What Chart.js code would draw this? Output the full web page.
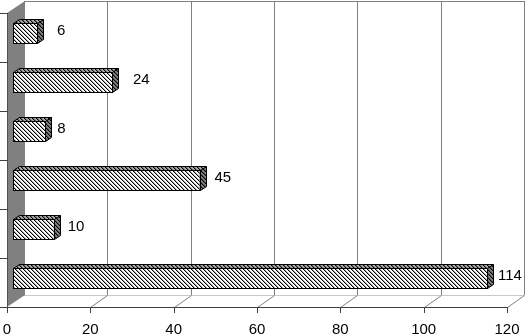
<!DOCTYPE html>
<html><head><meta charset="utf-8">
<script src="https://cdn.jsdelivr.net/npm/chart.js@4.4.1/dist/chart.umd.min.js"></script>
<style>html,body{margin:0;padding:0;background:#fff;overflow:hidden}#wrap{width:525px;height:335px;position:relative}</style>
</head><body><div id="wrap"><canvas id="c" width="525" height="335"></canvas></div>
<script>
// ---- data ----
const categories = ['1', '2', '3', '4', '5', '6'];
const values = [6, 24, 8, 45, 10, 114];
const xTickValues = [0, 20, 40, 60, 80, 100, 120];
const xTickLabels = ['0', '20', '40', '60', '80', '100', '120'];

// ---- style / geometry ----
const labelGap = [25, 26, 17, 20, 19, 16];
const WALL_DX = 17, WALL_DY = -12;   // back plane offset
const BAR_OX = 6, BAR_OY = -4;       // bar front face offset
const BAR_DX = 6, BAR_DY = -4;       // bar depth
const FONT = '15px "Liberation Sans", Arial, sans-serif';

function makePattern(bg, fg) {
  const c = document.createElement('canvas');
  c.width = 4; c.height = 4;
  const g = c.getContext('2d');
  g.fillStyle = bg; g.fillRect(0, 0, 4, 4);
  for (let yy = 0; yy < 4; yy++) for (let xx = 0; xx < 4; xx++) {
    const d = ((xx - yy) % 4 + 4) % 4;
    if (d === 0) { g.fillStyle = fg; g.fillRect(xx, yy, 1, 1); }
    else if (d === 1) { g.fillStyle = 'rgba(0,0,0,0.35)'; g.fillRect(xx, yy, 1, 1); }
  }
  return g.createPattern(c, 'repeat');
}
const ctx0 = document.getElementById('c').getContext('2d');
const frontPat = makePattern('#ffffff', '#000000');
const topPat = makePattern('#a8a8a8', '#000000');
const sidePat = makePattern('#808080', '#000000');

function seg(ctx, x1, y1, x2, y2) { ctx.beginPath(); ctx.moveTo(x1, y1); ctx.lineTo(x2, y2); ctx.stroke(); }

const frame3d = {
  id: 'frame3d',
  beforeDatasetsDraw(chart) {
    const { ctx, chartArea: a, scales: { x, y } } = chart;
    ctx.save();
    ctx.lineWidth = 1;
    const L = a.left, R = a.right, T = a.top, B = a.bottom;
    // back plane grid
    ctx.strokeStyle = '#808080';
    xTickValues.forEach(v => {
      if (v === 0) return;
      const px = Math.round(x.getPixelForValue(v)) + WALL_DX + 0.5;
      seg(ctx, px, T + WALL_DY, px, B + WALL_DY);
    });
    seg(ctx, L + WALL_DX, T + WALL_DY + 0.5, R + WALL_DX + 1, T + WALL_DY + 0.5);
    // back floor edge
    ctx.strokeStyle = '#c8c8c8';
    seg(ctx, L + WALL_DX, B + WALL_DY + 0.5, R + WALL_DX, B + WALL_DY + 0.5);
    // floor diagonals
    ctx.strokeStyle = '#808080';
    xTickValues.forEach(v => {
      if (v === 0) return;
      const px = Math.round(x.getPixelForValue(v)) + 0.5;
      seg(ctx, px, B + 0.5, px + WALL_DX, B + WALL_DY + 0.5);
    });
    // gray side wall
    ctx.fillStyle = '#808080';
    ctx.beginPath();
    ctx.moveTo(L, T); ctx.lineTo(L + WALL_DX + 1, T + WALL_DY);
    ctx.lineTo(L + WALL_DX + 1, B + WALL_DY); ctx.lineTo(L, B);
    ctx.closePath(); ctx.fill();
    ctx.strokeStyle = '#505050';
    seg(ctx, L + 0.5, T, L + 0.5, B + 1);
    // front axis line and ticks
    ctx.strokeStyle = '#404040';
    seg(ctx, L, B + 0.5, R + 1, B + 0.5);
    xTickValues.forEach(v => {
      const px = Math.round(x.getPixelForValue(v)) + 0.5;
      seg(ctx, px, B, px, B + 6);
    });
    // category tick marks on the left
    const n = categories.length;
    for (let i = 0; i <= n; i++) {
      const py = Math.round(T + (B - T) * i / n) + 0.5;
      seg(ctx, 0, py, L + 1, py);
    }
    // tick labels
    ctx.fillStyle = '#000';
    ctx.font = FONT;
    ctx.textAlign = 'center';
    ctx.textBaseline = 'alphabetic';
    xTickValues.forEach((v, i) => {
      ctx.fillText(xTickLabels[i], x.getPixelForValue(v), B + 27);
    });
    ctx.restore();
    ctx.save();
    ctx.translate(BAR_OX, BAR_OY);
  },
  afterDatasetsDraw(chart) {
    const { ctx } = chart;
    const meta = chart.getDatasetMeta(0);
    ctx.lineWidth = 1;
    ctx.strokeStyle = '#000';
    meta.data.forEach(el => {
      const p = el.getProps(['x', 'y', 'base', 'height'], true);
      const top = Math.round(p.y - p.height / 2) + 0.5;
      const bot = Math.round(p.y + p.height / 2) - 0.5;
      const vx = Math.round(p.x) - 0.5;
      const bs = Math.round(p.base) + 0.5;
      // top face
      ctx.beginPath();
      ctx.moveTo(bs, top); ctx.lineTo(vx, top);
      ctx.lineTo(vx + BAR_DX, top + BAR_DY); ctx.lineTo(bs + BAR_DX, top + BAR_DY);
      ctx.closePath();
      ctx.fillStyle = topPat; ctx.fill(); ctx.stroke();
      // right face
      ctx.beginPath();
      ctx.moveTo(vx, top); ctx.lineTo(vx + BAR_DX, top + BAR_DY);
      ctx.lineTo(vx + BAR_DX, bot + BAR_DY); ctx.lineTo(vx, bot);
      ctx.closePath();
      ctx.fillStyle = sidePat; ctx.fill(); ctx.stroke();
    });
    ctx.restore();
    // value labels
    ctx.save();
    ctx.fillStyle = '#000';
    ctx.font = FONT;
    ctx.textAlign = 'left';
    ctx.textBaseline = 'alphabetic';
    meta.data.forEach((el, i) => {
      const p = el.getProps(['x', 'y'], true);
      ctx.fillText(String(values[i]), p.x + labelGap[i], p.y - 3);
    });
    ctx.restore();
  }
};

new Chart(document.getElementById('c'), {
  type: 'bar',
  data: {
    labels: categories,
    datasets: [{
      data: values,
      backgroundColor: frontPat,
      borderColor: '#000',
      borderWidth: 1,
      borderSkipped: false,
      barPercentage: 0.43,
      categoryPercentage: 1.0
    }]
  },
  options: {
    indexAxis: 'y',
    responsive: false,
    animation: false,
    devicePixelRatio: 1,
    layout: { padding: { left: 7, right: 18, top: 13, bottom: 28 } },
    plugins: { legend: { display: false }, tooltip: { enabled: false } },
    scales: {
      x: { display: false, min: 0, max: 120 },
      y: { display: false }
    },
    datasets: { bar: { clip: false } }
  },
  plugins: [frame3d]
});
</script>
</body></html>
